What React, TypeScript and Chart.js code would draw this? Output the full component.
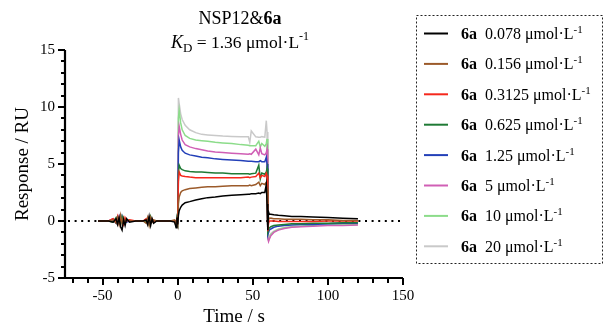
import React, { useEffect, useRef } from "react";
import { Chart, registerables } from "chart.js";

Chart.register(...registerables);

// ---------- data ----------
const TIMES = [
  -53, -46, -43, -41, -40, -39, -38, -37, -36, -35, -34, -32, -28, -23, -21, -20, -19, -18, -17, -16, -14, -10, -5, -2, -1, -0.5,
  0, 0.5, 1, 2, 3, 5, 8, 12, 16, 20, 25, 30, 36, 42, 47, 48, 49, 52, 54, 55, 56, 58, 59, 59.5,
  60, 60.5, 61, 62, 64, 67, 71, 76, 82, 90, 100, 110, 120,
];

const CONCENTRATIONS = ["0.078", "0.156", "0.3125", "0.625", "1.25", "5", "10", "20"];
const COLORS = ["#000000", "#9b5a2a", "#f5281c", "#1f7a35", "#2340b8", "#d05fb5", "#8cdc8a", "#c9c9c9"];

const S_0078 = [
  0, 0, -0.1, 0.2, -0.3, 0.3, -0.5, -0.8, 0.1, -0.4, 0.2, -0.1, 0, 0, 0.1, -0.3, 0.4, -0.4, 0.2, -0.2, 0, 0, 0, -0.1, -0.6, 0.3,
  -0.3, 0.5, 0.9, 1.2, 1.4, 1.6, 1.7, 1.85, 1.95, 2.05, 2.1, 2.2, 2.25, 2.3, 2.35, 2.35, 2.4, 2.4, 2.45, 2.4, 2.5, 2.5, 3.2, 1.5,
  -0.8, 0.8, 0.6, 0.6, 0.55, 0.5, 0.45, 0.4, 0.4, 0.35, 0.3, 0.25, 0.2,
];
const S_0156 = [
  0, 0, 0.1, -0.2, 0.3, -0.3, 0.5, -0.2, 0.3, -0.1, 0.1, 0, 0, 0, -0.2, 0.3, -0.4, 0.3, -0.1, 0.1, 0, 0, 0, 0.1, -0.3, 0.2,
  -0.2, 1.5, 2.1, 2.5, 2.65, 2.75, 2.85, 2.9, 2.95, 3.0, 3.0, 3.05, 3.1, 3.1, 3.1, 3.15, 3.1, 3.2, 3.4, 3.1, 3.3, 3.2, 3.4, 2.8,
  -0.6, 0.3, 0.2, 0.25, 0.2, 0.2, 0.15, 0.15, 0.15, 0.1, 0.1, 0.05, 0.05,
];
const S_03125 = [
  0, 0, 0.2, -0.1, 0.4, -0.2, 0.2, 0.1, -0.3, 0.3, 0, 0.1, 0, 0, 0.2, -0.2, 0.3, -0.1, 0.2, 0, 0, 0, 0, 0, -0.4, 0.3,
  -0.2, 3.5, 4.3, 4.0, 3.95, 3.9, 3.85, 3.8, 3.8, 3.8, 3.8, 3.8, 3.8, 3.8, 3.85, 3.8, 3.85, 3.9, 4.2, 3.8, 4.0, 3.9, 4.2, 4.0,
  -0.9, -0.2, 0.0, 0.0, 0.0, -0.05, -0.05, -0.05, -0.05, -0.05, 0.0, 0.0, 0.0,
];
const S_0625 = [
  0, 0, -0.1, 0.3, -0.2, 0.2, -0.3, 0.4, 0, -0.2, 0.1, 0, 0, 0, -0.1, 0.2, -0.3, 0.4, 0, -0.1, 0, 0, 0, 0, -0.5, 0.1,
  -0.2, 4.2, 4.9, 4.6, 4.5, 4.4, 4.35, 4.3, 4.3, 4.25, 4.2, 4.2, 4.15, 4.15, 4.15, 4.1, 4.15, 4.2, 4.9, 3.7, 4.2, 4.1, 4.3, 4.6,
  -1.0, -0.8, -0.6, -0.5, -0.4, -0.35, -0.3, -0.25, -0.25, -0.2, -0.2, -0.15, -0.15,
];
const S_125 = [
  0, 0, 0.1, -0.2, 0.2, 0.1, -0.2, 0.4, -0.1, 0.1, -0.1, 0, 0, 0, 0.1, -0.1, 0.2, -0.2, 0.1, 0, 0, 0, 0, 0, -0.3, 0.2,
  -0.2, 6.0, 7.1, 6.5, 6.2, 5.95, 5.8, 5.7, 5.6, 5.55, 5.45, 5.4, 5.35, 5.3, 5.25, 5.25, 5.25, 5.2, 5.2, 5.3, 5.2, 5.2, 5.6, 5.0,
  -1.2, -1.0, -0.8, -0.7, -0.55, -0.45, -0.4, -0.35, -0.3, -0.3, -0.25, -0.2, -0.2,
];
const S_5 = [
  0, 0, 0.2, 0, -0.2, 0.4, -0.1, 0.2, -0.2, 0.1, 0, 0, 0, 0, 0.1, -0.2, 0.1, 0.2, -0.1, 0, 0, 0, 0, 0, -0.3, 0.1,
  -0.2, 7.5, 8.3, 7.6, 7.1, 6.7, 6.5, 6.35, 6.25, 6.15, 6.05, 6.0, 5.95, 5.9, 5.85, 5.9, 5.85, 6.3, 5.8, 6.4, 5.9, 5.8, 6.0, 6.3,
  -1.5, -1.8, -1.6, -1.3, -1.0, -0.8, -0.65, -0.55, -0.5, -0.45, -0.4, -0.4, -0.35,
];
const S_10 = [
  0, 0, 0, 0.1, -0.1, 0.2, 0, -0.1, 0.1, 0, 0, 0, 0, 0, 0, 0.1, -0.1, 0, 0.1, 0, 0, 0, 0, 0, -0.2, 0.1,
  -0.2, 9.0, 9.7, 8.6, 8.0, 7.5, 7.25, 7.1, 7.05, 7.0, 6.9, 6.85, 6.8, 6.7, 6.65, 6.6, 6.6, 6.6, 7.0, 6.5, 6.8, 6.55, 6.8, 7.2,
  -1.6, -1.7, -1.5, -1.2, -0.95, -0.75, -0.6, -0.5, -0.45, -0.4, -0.35, -0.35, -0.3,
];
const S_20 = [
  0, 0, 0, 0.1, -0.1, 0.1, 0, 0, 0.1, 0, 0, 0, 0, 0, 0, 0.1, -0.1, 0.1, 0, 0, 0, 0, 0, 0, -0.2, 0,
  -0.2, 10.8, 10.3, 9.4, 8.9, 8.4, 8.0, 7.75, 7.6, 7.55, 7.5, 7.45, 7.42, 7.4, 7.4, 6.9, 7.9, 7.38, 7.35, 7.35, 7.4, 7.35, 8.8, 7.8,
  -1.3, -1.5, -1.3, -1.1, -0.9, -0.7, -0.6, -0.5, -0.45, -0.4, -0.35, -0.3, -0.3,
];

const SERIES = [S_0078, S_0156, S_03125, S_0625, S_125, S_5, S_10, S_20];

const X_MAJOR = [-50, 0, 50, 100, 150];
const Y_MAJOR = [-5, 0, 5, 10, 15];

const FONT = '"Liberation Serif", "Times New Roman", serif';

type Part = { t: string; bold?: boolean; italic?: boolean; size: number; dy?: number };

function drawRich(ctx: CanvasRenderingContext2D, parts: Part[], x: number, y: number, align: "left" | "center") {
  const fontOf = (p: Part) => `${p.italic ? "italic " : ""}${p.bold ? "bold " : ""}${p.size}px ${FONT}`;
  let total = 0;
  const widths = parts.map((p) => {
    ctx.font = fontOf(p);
    const w = ctx.measureText(p.t).width;
    total += w;
    return w;
  });
  let cx = align === "center" ? x - total / 2 : x;
  ctx.textAlign = "left";
  ctx.textBaseline = "alphabetic";
  parts.forEach((p, i) => {
    ctx.font = fontOf(p);
    ctx.fillText(p.t, cx, y + (p.dy || 0));
    cx += widths[i];
  });
}

const decorPlugin = {
  id: "decor",
  beforeDatasetsDraw(chart: any) {
    const { ctx, chartArea, scales } = chart;
    const y0 = scales.y.getPixelForValue(0);
    ctx.save();
    ctx.strokeStyle = "#000";
    ctx.lineWidth = 2;
    ctx.setLineDash([2, 4.6]);
    ctx.beginPath();
    ctx.moveTo(chartArea.left + 3, y0);
    ctx.lineTo(chartArea.right, y0);
    ctx.stroke();
    ctx.restore();
  },
  afterDraw(chart: any) {
    const { ctx, chartArea, scales } = chart;
    const xs = scales.x;
    const ys = scales.y;
    ctx.save();
    ctx.strokeStyle = "#000";
    ctx.fillStyle = "#000";
    ctx.lineWidth = 2.2;
    ctx.setLineDash([]);
    // axes lines
    ctx.beginPath();
    ctx.moveTo(chartArea.left, chartArea.top);
    ctx.lineTo(chartArea.left, chartArea.bottom);
    ctx.lineTo(chartArea.right, chartArea.bottom);
    ctx.stroke();
    ctx.lineWidth = 2;
    // y ticks
    for (let v = -5; v <= 15; v += 1) {
      const py = Math.round(ys.getPixelForValue(v));
      const len = v % 5 === 0 ? 7 : 4;
      ctx.beginPath();
      ctx.moveTo(chartArea.left, py);
      ctx.lineTo(chartArea.left - len, py);
      ctx.stroke();
    }
    // x ticks
    for (let v = -70; v <= 150; v += 10) {
      const px = Math.round(xs.getPixelForValue(v));
      const len = v % 50 === 0 ? 7 : 5;
      ctx.beginPath();
      ctx.moveTo(px, chartArea.bottom);
      ctx.lineTo(px, chartArea.bottom + len);
      ctx.stroke();
    }
    // axis titles
    ctx.font = `19px ${FONT}`;
    ctx.textAlign = "center";
    ctx.textBaseline = "alphabetic";
    ctx.fillText("Time / s", (chartArea.left + chartArea.right) / 2, 322);
    ctx.save();
    ctx.translate(28, (chartArea.top + chartArea.bottom) / 2);
    ctx.rotate(-Math.PI / 2);
    ctx.fillText("Response / RU", 0, 0);
    ctx.restore();

    // title
    drawRich(ctx, [
      { t: "NSP12&", size: 18 },
      { t: "6a", size: 18, bold: true },
    ], 240, 24, "center");
    drawRich(ctx, [
      { t: "K", size: 18, italic: true },
      { t: "D", size: 13, dy: 4 },
      { t: " = 1.36 \u03bcmol\u00b7L", size: 17.5 },
      { t: "-1", size: 12, dy: -8 },
    ], 240, 48, "center");

    // legend
    ctx.lineWidth = 1;
    ctx.strokeStyle = "#222";
    ctx.setLineDash([2, 2]);
    ctx.strokeRect(416.5, 15.5, 186, 248);
    ctx.setLineDash([]);
    chart.data.datasets.forEach((ds: any, i: number) => {
      const cy = 33.5 + i * 30.4;
      ctx.strokeStyle = ds.borderColor;
      ctx.lineWidth = 2;
      ctx.beginPath();
      ctx.moveTo(424, cy);
      ctx.lineTo(448, cy);
      ctx.stroke();
      ctx.fillStyle = "#000";
      drawRich(ctx, [
        { t: "6a", size: 16, bold: true },
        { t: "  " + CONCENTRATIONS[i] + " \u03bcmol\u00b7L", size: 16 },
        { t: "-1", size: 11, dy: -6 },
      ], 461, cy + 5.5, "left");
    });
    ctx.restore();
  },
};

export default function App() {
  const ref = useRef<HTMLCanvasElement | null>(null);
  useEffect(() => {
    document.body.style.margin = "0";
    const canvas = ref.current!;
    const datasets = SERIES.map((vals, i) => ({
      label: "6a " + CONCENTRATIONS[i] + " \u03bcmol\u00b7L-1",
      data: TIMES.map((t, k) => ({ x: t, y: vals[k] })),
      borderColor: COLORS[i],
      backgroundColor: COLORS[i],
      borderWidth: 1.5,
      pointRadius: 0,
      tension: 0,
      fill: false,
    }));
    const chart = new Chart(canvas, {
      type: "line",
      data: { datasets },
      options: {
        responsive: false,
        animation: false,
        devicePixelRatio: 1,
        layout: { padding: { left: 0, right: 202, top: 50, bottom: 0 } },
        plugins: { legend: { display: false }, tooltip: { enabled: false }, title: { display: false } },
        scales: {
          x: {
            type: "linear",
            min: -75,
            max: 150,
            grid: { display: false, drawTicks: false },
            border: { display: false },
            afterBuildTicks: (s: any) => { s.ticks = X_MAJOR.map((v) => ({ value: v })); },
            afterFit: (s: any) => { s.height = 48; },
            ticks: { color: "#000", padding: 9, font: { family: FONT, size: 15 }, maxRotation: 0, autoSkip: false },
          },
          y: {
            type: "linear",
            min: -5,
            max: 15,
            grid: { display: false, drawTicks: false },
            border: { display: false },
            afterBuildTicks: (s: any) => { s.ticks = Y_MAJOR.map((v) => ({ value: v })); },
            afterFit: (s: any) => { s.width = 65; },
            ticks: { color: "#000", padding: 10, font: { family: FONT, size: 15 }, autoSkip: false },
          },
        },
      },
      plugins: [decorPlugin],
    });
    return () => chart.destroy();
  }, []);
  return <canvas ref={ref} width={605} height={326} style={{ display: "block" }} />;
}
